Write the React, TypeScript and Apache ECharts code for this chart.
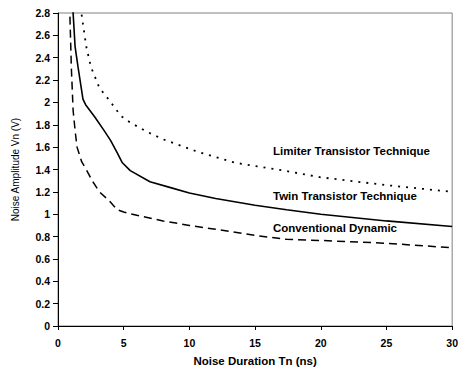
import React, { useEffect, useRef } from "react";
import * as echarts from "echarts";

const twinDuration = [1.1, 1.15, 1.3, 1.52, 1.9, 2.1, 2.8, 3.5, 4.0, 4.5, 4.9, 5.5, 7, 8.5, 10, 12, 15, 17.4, 20, 25, 30];
const twinAmplitude = [3.0, 2.8, 2.5, 2.32, 2.03, 1.98, 1.87, 1.75, 1.66, 1.55, 1.46, 1.39, 1.29, 1.24, 1.19, 1.14, 1.08, 1.04, 1.0, 0.94, 0.89];

const limiterDuration = [1.7, 1.78, 2.15, 2.5, 3.15, 3.9, 4.78, 5.5, 6.9, 8, 10.6, 13.5, 17.2, 20, 25, 30];
const limiterAmplitude = [3.0, 2.8, 2.5, 2.32, 2.13, 2.02, 1.88, 1.82, 1.73, 1.67, 1.56, 1.46, 1.39, 1.33, 1.26, 1.2];

const convDuration = [0.88, 0.9, 1.02, 1.15, 1.3, 1.45, 1.8, 2.15, 2.6, 3.15, 3.9, 4.5, 5, 6, 8, 10, 12, 15, 17.4, 20, 25, 30];
const convAmplitude = [3.0, 2.8, 2.3, 1.93, 1.75, 1.6, 1.47, 1.4, 1.3, 1.2, 1.12, 1.04, 1.02, 0.99, 0.94, 0.9, 0.865, 0.81, 0.775, 0.765, 0.74, 0.7];

const seriesNames = ["Limiter Transistor Technique", "Twin Transistor Technique", "Conventional Dynamic"];

const zip = (xs: number[], ys: number[]) => xs.map((x, i) => [x, ys[i]]);

const FONT = "'Liberation Sans', Arial, sans-serif";

export default function App() {
  const ref = useRef<HTMLDivElement>(null);
  useEffect(() => {
    if (!ref.current) return;
    const chart = echarts.init(ref.current, undefined, { renderer: "svg" });
    const lineBase = { type: "line", showSymbol: false, symbol: "none", clip: true, smooth: false };
    chart.setOption({
      animation: false,
      backgroundColor: "#fff",
      grid: { left: 58, right: 3, top: 13, bottom: 45.5, show: true, borderColor: "#808080", borderWidth: 1, backgroundColor: "transparent" },
      xAxis: {
        type: "value", min: 0, max: 30, interval: 5,
        name: "Noise Duration Tn (ns)", nameLocation: "middle", nameGap: 29,
        nameTextStyle: { fontFamily: FONT, fontWeight: "bold", fontSize: 11.5, color: "#000" },
        axisLine: { lineStyle: { color: "#000", width: 1 } },
        axisTick: { show: true, length: 4, lineStyle: { color: "#000" } },
        axisLabel: { fontFamily: FONT, fontWeight: "bold", fontSize: 10.5, color: "#000", margin: 11 },
        splitLine: { show: false },
      },
      yAxis: {
        type: "value", min: 0, max: 2.8, interval: 0.2,
        name: "Noise Amplitude Vn (V)", nameLocation: "middle", nameGap: 38, nameRotate: 90,
        nameTextStyle: { fontFamily: FONT, fontSize: 10, color: "#000" },
        axisLine: { show: true, lineStyle: { color: "#000", width: 1 } },
        axisTick: { show: true, length: 5, lineStyle: { color: "#000" } },
        axisLabel: { fontFamily: FONT, fontWeight: "bold", fontSize: 10.5, color: "#000", margin: 8 },
        splitLine: { show: false },
      },
      series: [
        { ...lineBase, name: seriesNames[0], data: zip(limiterDuration, limiterAmplitude), lineStyle: { color: "#000", width: 1.8, type: [2, 6] } },
        { ...lineBase, name: seriesNames[1], data: zip(twinDuration, twinAmplitude), lineStyle: { color: "#000", width: 1.6, type: "solid" } },
        { ...lineBase, name: seriesNames[2], data: zip(convDuration, convAmplitude), lineStyle: { color: "#000", width: 1.5, type: [8, 5] } },
      ],
      graphic: [
        { type: "text", left: 273, top: 145, style: { text: seriesNames[0], fontFamily: FONT, fontWeight: "bold", fontSize: 11.5, fill: "#000" } },
        { type: "text", left: 273, top: 190, style: { text: seriesNames[1], fontFamily: FONT, fontWeight: "bold", fontSize: 11.5, fill: "#000" } },
        { type: "text", left: 273, top: 222, style: { text: seriesNames[2], fontFamily: FONT, fontWeight: "bold", fontSize: 11.5, fill: "#000" } },
      ],
    });
    return () => chart.dispose();
  }, []);
  return <div ref={ref} style={{ position: "fixed", left: 0, top: 0, width: 461, height: 372 }} />;
}
